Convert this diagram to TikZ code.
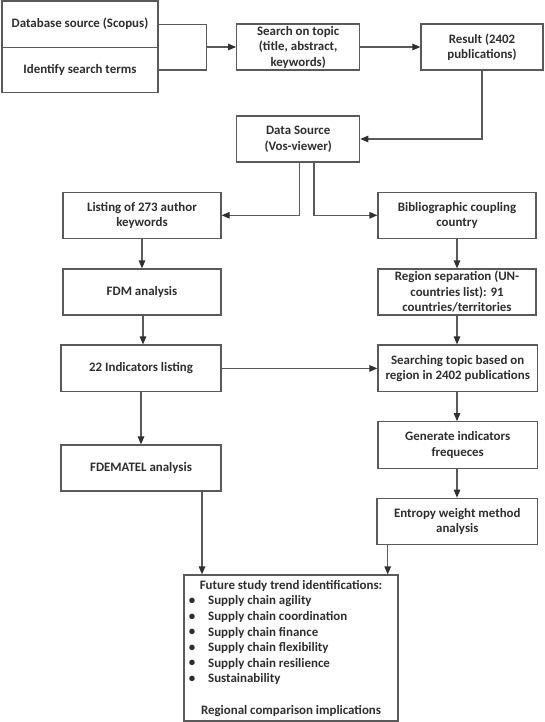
\documentclass[tikz,border=0pt]{standalone}
\usepackage{fontspec}
\setmainfont{Carlito}
\usetikzlibrary{arrows.meta}
\definecolor{lncol}{HTML}{5A5A5A}
\definecolor{tipcol}{HTML}{303030}
\definecolor{txcol}{HTML}{2E2E2E}
\begin{document}
\begin{tikzpicture}[x=1pt,y=-1pt,
  box/.style={draw=lncol, line width=1.2pt, fill=white, align=center, inner sep=1pt,
    text=txcol, font=\fontsize{12.9}{15.5}\selectfont\bfseries},
  arr/.style={draw=lncol, line width=1.2pt, -{Triangle[length=8pt,width=6.5pt,color=tipcol]}},
  conn/.style={draw=lncol, line width=1.2pt},
  lbl/.style={text=txcol, inner sep=0pt, font=\fontsize{12.9}{15.5}\selectfont\bfseries}]
\useasboundingbox (0,0) rectangle (544,722);

% top row
\node[box, minimum width=156, minimum height=46.3] (db) at (80,24.2) {Database source (Scopus)};
\node[box, minimum width=156, minimum height=45.4] (id) at (80,70) {Identify search terms};
\node[box, minimum width=123, minimum height=46] (search) at (298.2,47) {Search on topic\\(title, abstract,\\keywords)};
\node[box, minimum width=122, minimum height=46] (result) at (482,47) {Result (2402\\publications)};
\node[box, minimum width=123, minimum height=46] (ds) at (298.2,139) {Data Source\\(Vos-viewer)};

% left column
\node[box, minimum width=158, minimum height=46] (listing) at (142,215.3) {Listing of 273 author\\keywords};
\node[box, minimum width=158, minimum height=46] (fdm) at (142,292) {FDM analysis};
\node[box, minimum width=160, minimum height=46.7] (ind) at (141,368.4) {22 Indicators listing};
\node[box, minimum width=160, minimum height=46] (fdematel) at (141,468) {FDEMATEL analysis};

% right column
\node[box, minimum width=158, minimum height=46] (bib) at (457,215.3) {Bibliographic coupling\\country};
\node[box, minimum width=158, minimum height=46] (region) at (457,292) {Region separation (UN-\\countries list): 91\\countries/territories};
\node[box, minimum width=159.5, minimum height=46.7] (searching) at (457.7,368.4) {Searching topic based on\\region in 2402 publications};
\node[box, minimum width=159.5, minimum height=46.6] (generate) at (457.7,445) {Generate indicators\\frequeces};
\node[box, minimum width=160.5, minimum height=46] (entropy) at (457.3,521.3) {Entropy weight method\\analysis};

% final box
\node[box, minimum width=214, minimum height=146] (final) at (291,648) {};
\node[lbl] (ftitle) at (291,586) {Future study trend identifications:};
\foreach \i/\t in {1/Supply chain agility,2/Supply chain coordination,3/Supply chain finance,4/Supply chain flexibility,5/Supply chain resilience,6/Sustainability}{
  \node[lbl] (b\i) at (192,{586+15.5*\i}) {\textbullet};
  \node[lbl, anchor=west] (it\i) at (208,{586+15.5*\i}) {\t};
}
\node[lbl] (fend) at (291,711) {Regional comparison implications};

% connectors
\coordinate (jn) at (206.7,47);
\draw[conn] (db.east) -| (jn) |- (id.east);
\draw[arr] (jn) -- (search.west);
\draw[arr] (search.east) -- (result.west);
\draw[arr] (result.south) |- (ds.east);
\draw[arr] ([xshift=1.2pt]ds.south) |- (listing.east);
\draw[arr] ([xshift=15.8pt]ds.south) |- (bib.west);
\draw[arr] (listing.south) -- (fdm.north);
\draw[arr] ([xshift=1pt]fdm.south) -- ([xshift=1pt]fdm.south |- ind.north);
\draw[arr] (ind.south) -- (fdematel.north);
\draw[arr] (bib.south) -- (region.north);
\draw[arr] (region.south) -- (region.south |- searching.north);
\draw[arr] (ind.east) -- (ind.east -| searching.west);
\draw[arr] ([xshift=-0.7pt]searching.south) -- ([xshift=-0.7pt]generate.north);
\draw[arr] ([xshift=-0.7pt]generate.south) -- ([xshift=-0.3pt]entropy.north);
\draw[arr] ([xshift=61pt]fdematel.south) -- ([xshift=61pt]fdematel.south |- final.north);
\draw[arr] ([xshift=-69.6pt]entropy.south) -- ([xshift=-69.6pt]entropy.south |- final.north);
\end{tikzpicture}
\end{document}
